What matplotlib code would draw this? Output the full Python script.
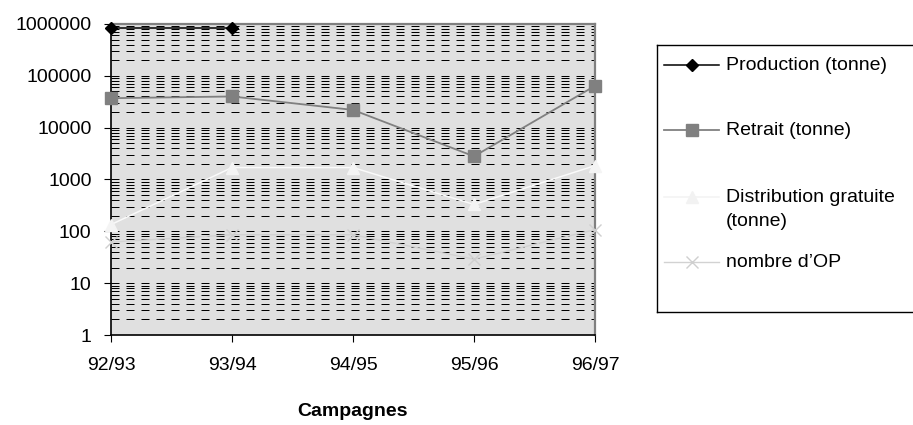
import matplotlib
matplotlib.use("Agg")
import matplotlib.pyplot as plt
import numpy as np
from matplotlib.ticker import LogLocator, FuncFormatter

plt.rcParams['font.family'] = ['Liberation Sans', 'DejaVu Sans']

campagnes = ['92/93', '93/94', '94/95', '95/96', '96/97']
production = [850000, 850000, np.nan, np.nan, np.nan]
retrait = [37000, 40000, 22000, 2800, 64000]
distribution = [135, 1700, 1700, 330, 1850]
nombre_op = [62, 86, 86, 29, 108]

W, H = 913, 425
fig = plt.figure(figsize=(W / 100, H / 100), dpi=100)
ax = fig.add_axes([111 / W, (H - 335) / H, (595 - 111) / W, (335 - 24) / H])
ax.set_facecolor('#e0e0e0')

x = np.arange(len(campagnes))
ax.plot(x, production, color='black', lw=1.1, marker='D', ms=6, zorder=5, clip_on=False)
ax.plot(x, retrait, color='#808080', lw=1.3, marker='s', ms=9, zorder=5, clip_on=False)
ax.plot(x, distribution, color='#fafafa', lw=1.1, marker='^', ms=9, mfc='#f4f4f4', mec='#f4f4f4', zorder=4, clip_on=False)
ax.plot(x, nombre_op, color='#d2d2d2', lw=1.0, marker='x', ms=8, mew=1.0, mec='#cfcfcf', zorder=4, clip_on=False)

ax.set_yscale('log')
ax.set_ylim(1, 1e6)
ax.set_xlim(0, 4)
ax.yaxis.set_major_locator(LogLocator(base=10, numticks=10))
ax.yaxis.set_minor_locator(LogLocator(base=10, subs=np.arange(2, 10), numticks=20))
ax.yaxis.set_major_formatter(FuncFormatter(lambda v, p: '%d' % round(v)))
ax.yaxis.set_minor_formatter(FuncFormatter(lambda v, p: ''))
ax.grid(True, axis='y', which='both', color='black', lw=0.72, linestyle=(0, (8, 7)), zorder=1)
ax.set_axisbelow(True)

ax.set_xticks(x)
ax.set_xticklabels(campagnes)
ax.tick_params(axis='both', which='major', labelsize=14, length=5, width=0.8, direction='out', color='black')
ax.tick_params(axis='y', which='minor', length=0)
ax.tick_params(axis='x', pad=11)
ax.tick_params(axis='y', pad=9)

for s in ['left', 'bottom']:
    ax.spines[s].set_color('black')
    ax.spines[s].set_linewidth(1.2)
for s in ['top', 'right']:
    ax.spines[s].set_color('#808080')
    ax.spines[s].set_linewidth(1.6)

fig.text(352 / W, 1 - 411 / H, 'Campagnes', fontsize=14, fontweight='bold', ha='center', va='center')

# legend box drawn in its own axes, pixel coordinates
lax = fig.add_axes([657 / W, (H - 312) / H, (W - 657 + 3) / W, (312 - 45) / H])
lax.set_xlim(0, W - 657 + 3)
lax.set_ylim(312 - 45, 0)
lax.set_xticks([])
lax.set_yticks([])
for s in lax.spines.values():
    s.set_color('black')
    s.set_linewidth(1.0)

hx = [664 - 657, 719 - 657]
entries = [
    (65, 'Production (tonne)', dict(color='black', lw=1.1, marker='D', ms=6)),
    (130, 'Retrait (tonne)', dict(color='#808080', lw=1.3, marker='s', ms=9)),
    (197, 'Distribution gratuite\n(tonne)', dict(color='#f2f2f2', lw=1.1, marker='^', ms=9, mfc='#f2f2f2', mec='#f2f2f2')),
    (262, "nombre d\u2019OP", dict(color='#d2d2d2', lw=1.0, marker='x', ms=8, mew=1.0, mec='#cfcfcf')),
]
for yy, label, style in entries:
    y0 = yy - 45
    lax.plot(hx, [y0, y0], color=style['color'], lw=style['lw'])
    st = {k: v for k, v in style.items() if k not in ('color', 'lw')}
    lax.plot([np.mean(hx)], [y0], linestyle='none', color=style['color'], **st)
    lax.text(726 - 657, y0 - 8, label, fontsize=14, ha='left', va='top', linespacing=1.5)

fig.savefig('out.png', dpi=100)
